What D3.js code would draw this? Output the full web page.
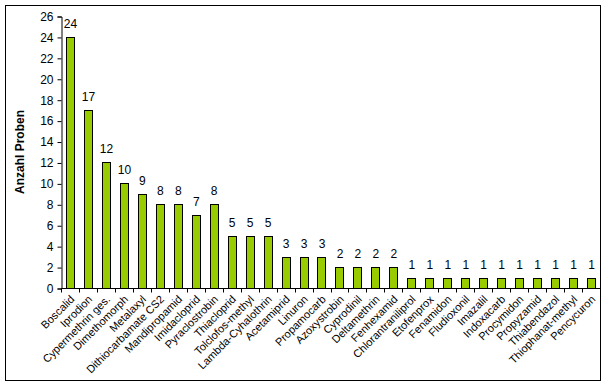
<!DOCTYPE html>
<html>
<head>
<meta charset="utf-8">
<script src="https://cdn.jsdelivr.net/npm/d3@7"></script>
<style>
  body { margin: 0; background: #fff; }
  svg { display: block; }
</style>
</head>
<body>
<div id="chart"></div>
<script>
// Anzahl Proben je Wirkstoff
const wirkstoffe = ["Boscalid", "Iprodion", "Cypermethrin ges.", "Dimethomorph", "Metalaxyl",
  "Dithiocarbamate CS2", "Mandipropamid", "Imidacloprid", "Pyraclostrobin", "Thiacloprid",
  "Tolclofos-methyl", "Lambda-Cyhalothrin", "Acetamiprid", "Linuron", "Propamocarb",
  "Azoxystrobin", "Cyprodinil", "Deltamethrin", "Fenhexamid", "Chlorantraniliprol",
  "Etofenprox", "Fenamidon", "Fludioxonil", "Imazalil", "Indoxacarb", "Procymidon",
  "Propyzamid", "Thiabendazol", "Thiophanat-methyl", "Pencycuron"];
const proben = [24, 17, 12, 10, 9, 8, 8, 7, 8, 5, 5, 5, 3, 3, 3, 2, 2, 2, 2, 1,
  1, 1, 1, 1, 1, 1, 1, 1, 1, 1];
const yTicks = d3.range(0, 27, 2);

const W = 605, H = 387;
const pLeft = 61, pRight = 600, pTop = 16, pBottom = 288;

const svg = d3.select("#chart").append("svg")
  .attr("width", W).attr("height", H)
  .attr("font-family", "Arial, 'Liberation Sans', sans-serif");

// outer frame
svg.append("rect")
  .attr("x", 5.5).attr("y", 5.5)
  .attr("width", 595).attr("height", 375)
  .attr("fill", "#fff").attr("stroke", "#000").attr("stroke-width", 1);

const x = d3.scaleBand().domain(wirkstoffe).range([pLeft, pRight]).paddingInner(0.55).paddingOuter(0.275);
const y = d3.scaleLinear().domain([0, 26]).range([pBottom, pTop]);

// y axis
const yAxis = d3.axisLeft(y).tickValues(yTicks).tickSize(4).tickPadding(4);
svg.append("g")
  .attr("transform", `translate(${pLeft + 0.5},0.5)`)
  .call(yAxis)
  .call(g => g.selectAll("text").attr("font-size", 12).attr("fill", "#000").attr("font-family", "Arial, 'Liberation Sans', sans-serif"))
  .call(g => g.selectAll("line,path").attr("stroke", "#000"));

// x axis, ticks between categories
const xb = d3.scaleLinear().domain([0, wirkstoffe.length]).range([pLeft, pRight]);
const xa = svg.append("g").attr("transform", `translate(0.5,${pBottom + 0.5})`);
xa.append("line").attr("x1", pLeft).attr("x2", pRight).attr("stroke", "#000");
xa.selectAll("line.tick").data(d3.range(wirkstoffe.length + 1)).join("line")
  .attr("class", "tick")
  .attr("x1", d => Math.round(xb(d))).attr("x2", d => Math.round(xb(d)))
  .attr("y1", 0).attr("y2", 4).attr("stroke", "#000");

// bars
svg.append("g").selectAll("rect").data(proben).join("rect")
  .attr("x", (d, i) => Math.round(x(wirkstoffe[i])) + 0.5)
  .attr("y", d => Math.round(y(d)) + 0.5)
  .attr("width", Math.round(x.bandwidth()))
  .attr("height", d => Math.round(pBottom - y(d)))
  .attr("fill", "#99cc00").attr("stroke", "#000").attr("stroke-width", 1);

// value labels
svg.append("g").selectAll("text").data(proben).join("text")
  .attr("x", (d, i) => x(wirkstoffe[i]) + x.bandwidth() / 2 + 0.5)
  .attr("y", d => y(d) - 9)
  .attr("text-anchor", "middle")
  .attr("font-size", 12)
  .text(d => d);

// category labels
svg.append("g").selectAll("text").data(wirkstoffe).join("text")
  .attr("transform", d => `translate(${x(d) + x.bandwidth() / 2 + 5},${pBottom + 12}) rotate(-45)`)
  .attr("text-anchor", "end")
  .attr("font-size", 11)
  .text(d => d);

// y title
svg.append("text")
  .attr("transform", `translate(24,152) rotate(-90)`)
  .attr("text-anchor", "middle")
  .attr("font-size", 12)
  .attr("font-weight", "bold")
  .text("Anzahl Proben");
</script>
</body>
</html>
